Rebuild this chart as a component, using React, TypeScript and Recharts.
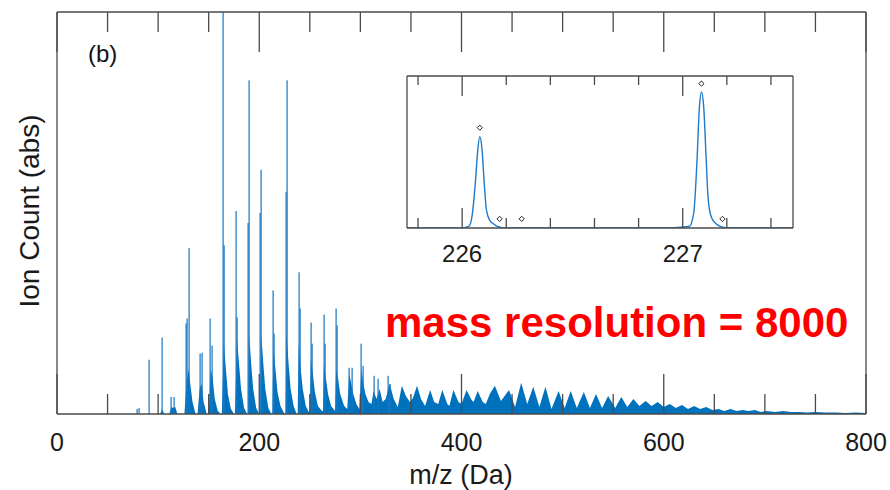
import { ComposedChart, Area, Bar, Line, Scatter, XAxis, YAxis } from 'recharts';

// main spectrum: dense cluster envelope (m/z, counts)
const envMz = [
  0, 84, 102, 104, 106, 111, 113, 115, 117, 119,
  126, 128, 130, 132, 134, 137, 139, 141, 143, 145, 148,
  150, 152, 154, 156, 159, 162, 163, 165, 167, 169, 172, 175,
  176, 178, 180, 182, 185, 188, 189, 190, 192, 194, 197, 200,
  201, 202, 204, 206, 209, 212, 213, 214, 216, 218, 221, 225,
  226, 227, 229, 231, 234, 237, 238, 239, 241, 243, 246, 249,
  250, 251, 253, 255, 258, 262, 263, 264, 266, 268, 271, 275,
  276, 278, 280, 284, 287, 289, 291, 293, 296, 299,
  301, 303, 305, 308, 311, 313, 316, 319, 322, 325, 329, 333, 337,
  341, 345, 349, 352, 356, 360, 364, 369, 373, 377, 381, 386, 388,
  392, 397, 400, 405, 410, 412, 416, 421, 424,
  428, 433, 439, 447, 453, 459, 465, 471, 477, 483, 489, 496, 502, 508, 514,
  521, 527, 533, 539, 545, 552, 558, 564, 570, 576, 582, 588, 594, 600,
  606, 612, 618, 624, 630, 636, 642, 648, 654, 660, 666, 672, 678, 684,
  690, 696, 702, 710, 718, 726, 734, 742, 750, 760, 770, 780, 790, 800,
];
const envCount = [
  0, 0, 0, 5, 0, 0, 7, 6, 7, 0,
  0, 30, 45, 28, 12, 0, 0, 25, 30, 12, 0,
  0, 45, 35, 15, 3, 0, 0, 70, 45, 20, 5, 0,
  0, 75, 50, 25, 6, 0, 0, 80, 50, 25, 6, 0,
  0, 80, 50, 25, 6, 0, 0, 65, 45, 22, 8, 0,
  0, 80, 50, 25, 8, 0, 0, 70, 45, 25, 8, 2,
  2, 55, 40, 22, 8, 3, 3, 50, 35, 20, 8, 3,
  45, 35, 20, 8, 5, 40, 30, 20, 10, 5,
  45, 30, 20, 12, 10, 23, 15, 25, 12, 15, 30, 15, 7,
  28, 18, 12, 16, 28, 15, 8, 24, 12, 10, 24, 10, 8,
  24, 12, 10, 24, 14, 12, 23, 12, 10,
  20, 28, 13, 24, 7, 31, 10, 27, 7, 27, 5, 23, 6, 23, 6,
  22, 6, 20, 6, 18, 6, 17, 7, 15, 8, 13, 8, 12, 7,
  10, 6, 9, 5, 8, 5, 7, 4, 5, 3, 5, 3, 4, 3,
  4, 2, 3, 2, 3, 2, 2, 1.5, 2, 1.5, 1.5, 1, 1.5, 1,
];

// main spectrum: isolated tall peaks
const spikeMz = [
  79, 81, 91, 104, 113, 116, 128, 129, 131, 141, 143, 151, 153,
  164, 165, 177, 178, 189, 190, 201, 202, 214, 215, 226, 227,
  239, 240, 251, 252, 264, 265, 276, 277, 289, 292, 301, 303,
  313, 317, 327, 329,
];
const spikeCount = [
  5, 6, 54, 76, 17, 17, 90, 95, 165, 60, 61, 95, 68,
  450, 168, 202, 96, 190, 332, 200, 243, 123, 80, 221, 332,
  141, 105, 91, 70, 99, 70, 105, 88, 46, 46, 70, 48,
  38, 35, 38, 30,
];

const mainTicks = [0, 50, 100, 150, 200, 250, 300, 350, 400, 450, 500, 550, 600, 650, 700, 750, 800];
const mainMajor = [0, 200, 400, 600, 800];

// inset: zoom on 226 / 227
const traceMz = [
  225.75, 226.0, 226.03, 226.045, 226.06, 226.07, 226.08, 226.09, 226.1, 226.11,
  226.125, 226.14, 226.16, 226.19, 226.3, 226.9, 227.03, 227.05, 227.065, 227.075,
  227.085, 227.095, 227.105, 227.115, 227.13, 227.15, 227.17, 227.2, 227.5,
];
const traceCount = [
  0, 0, 0.01, 0.08, 0.3, 0.5, 0.6, 0.52, 0.3, 0.12,
  0.05, 0.03, 0.01, 0, 0, 0, 0.01, 0.1, 0.45, 0.78,
  0.895, 0.8, 0.5, 0.2, 0.07, 0.03, 0.01, 0, 0,
];
const markerMz = [226.08, 226.17, 226.27, 227.085, 227.18];
const markerCount = [0.66, 0.06, 0.06, 0.95, 0.06];

const insetTicks = [225.8, 226, 226.2, 226.4, 226.6, 226.8, 227, 227.2, 227.4];
const insetMajor = [226, 227];

const FONT = '"Liberation Sans", Arial, Helvetica, sans-serif';
const AXIS = '#4a4a4a';
const BLUE = '#0072BD';

const spectrum = [
  ...envMz.map((mz, i) => ({ mz, env: envCount[i] })),
  ...spikeMz.map((mz, i) => ({ mz, spike: spikeCount[i] })),
].sort((a, b) => a.mz - b.mz);

const trace = traceMz.map((mz, i) => ({ mz, v: traceCount[i] }));
const markers = markerMz.map((mz, i) => ({ mz, v: markerCount[i] }));

function makeTick(side: 'top' | 'bottom', majors: number[], long: number, short: number, labelDy: number, fontSize: number) {
  return (props: any) => {
    const { x, y, payload } = props;
    const isMajor = majors.includes(payload.value);
    const len = isMajor ? long : short;
    const y2 = side === 'bottom' ? y - len : y + len;
    return (
      <g>
        <line x1={x} y1={y} x2={x} y2={y2} stroke={AXIS} strokeWidth={1.3} />
        {side === 'bottom' && isMajor && (
          <text x={x} y={y + labelDy} textAnchor="middle" fontSize={fontSize} fill="#1a1a1a" fontFamily={FONT}>
            {payload.value}
          </text>
        )}
      </g>
    );
  };
}

// thin spike: centred on its m/z and snapped to a pixel column
const SpikeShape = (props: any) => {
  const { x, y, width, height } = props;
  if (!height || height <= 0) return <g />;
  const cx = Math.round(x + width / 2);
  return <rect x={cx - 0.5} y={y} width={1.2} height={height} fill="#1677c4" />;
};

const Diamond = (props: any) => {
  const { cx, cy } = props;
  const r = 2.6;
  return (
    <path
      d={`M${cx},${cy - r}L${cx + r},${cy}L${cx},${cy + r}L${cx - r},${cy}Z`}
      fill="#fff"
      stroke="#222"
      strokeWidth={1}
    />
  );
};

const layer: any = { position: 'absolute', left: 0, top: 0 };

export default function App() {
  return (
    <div style={{ position: 'absolute', left: 0, top: 0, width: 890, height: 490, background: '#fff', fontFamily: FONT }}>
      {/* spectrum marks */}
      <div style={layer}>
        <ComposedChart width={890} height={490} data={spectrum} margin={{ top: 12, right: 24, bottom: 76, left: 57 }}>
          <XAxis xAxisId="main" dataKey="mz" type="number" domain={[0, 800]} allowDataOverflow hide />
          <YAxis yAxisId="main" type="number" domain={[0, 400]} allowDataOverflow hide />
          <Area
            xAxisId="main"
            yAxisId="main"
            dataKey="env"
            type="linear"
            connectNulls
            stroke="none"
            fill={BLUE}
            fillOpacity={1}
            isAnimationActive={false}
            dot={false}
            activeDot={false}
          />
          <Bar
            xAxisId="main"
            yAxisId="main"
            dataKey="spike"
            barSize={1}
            fill={BLUE}
            shape={SpikeShape}
            isAnimationActive={false}
          />
        </ComposedChart>
      </div>

      {/* box and ticks drawn over the spectrum */}
      <div style={layer}>
        <ComposedChart width={890} height={490} data={spectrum} margin={{ top: 11, right: 23, bottom: 75, left: 56 }}>
          <XAxis
            xAxisId="main"
            dataKey="mz"
            type="number"
            domain={[0, 800]}
            allowDataOverflow
            ticks={mainTicks}
            interval={0}
            height={1}
            tickSize={0}
            tickMargin={0}
            tickLine={false}
            axisLine={{ stroke: AXIS, strokeWidth: 1.3 }}
            tick={makeTick('bottom', mainMajor, 40, 20, 37, 25)}
          />
          <XAxis
            xAxisId="top"
            orientation="top"
            dataKey="mz"
            type="number"
            domain={[0, 800]}
            allowDataOverflow
            ticks={mainTicks}
            interval={0}
            height={1}
            tickSize={0}
            tickMargin={0}
            tickLine={false}
            axisLine={{ stroke: AXIS, strokeWidth: 1.3 }}
            tick={makeTick('top', mainMajor, 40, 20, 0, 25)}
          />
          <YAxis
            yAxisId="main"
            type="number"
            domain={[0, 400]}
            allowDataOverflow
            width={1}
            tick={false}
            tickLine={false}
            axisLine={{ stroke: AXIS, strokeWidth: 1.3 }}
          />
          <YAxis
            yAxisId="right"
            orientation="right"
            type="number"
            domain={[0, 400]}
            allowDataOverflow
            width={1}
            tick={false}
            tickLine={false}
            axisLine={{ stroke: AXIS, strokeWidth: 1.3 }}
          />
        </ComposedChart>
      </div>

      <div style={{ position: 'absolute', left: 380, top: 60, width: 440, height: 220 }}>
        <ComposedChart width={440} height={220} data={trace} margin={{ top: 15, right: 26, bottom: 51, left: 26 }}>
          <XAxis
            xAxisId="b"
            dataKey="mz"
            type="number"
            domain={[225.75, 227.5]}
            allowDataOverflow
            ticks={insetTicks}
            interval={0}
            height={1}
            tickSize={0}
            tickMargin={0}
            tickLine={false}
            axisLine={{ stroke: AXIS, strokeWidth: 1.3 }}
            tick={makeTick('bottom', insetMajor, 20, 10, 34, 24)}
          />
          <XAxis
            xAxisId="t"
            orientation="top"
            dataKey="mz"
            type="number"
            domain={[225.75, 227.5]}
            allowDataOverflow
            ticks={insetTicks}
            interval={0}
            height={1}
            tickSize={0}
            tickMargin={0}
            tickLine={false}
            axisLine={{ stroke: AXIS, strokeWidth: 1.3 }}
            tick={makeTick('top', insetMajor, 20, 9, 0, 24)}
          />
          <YAxis
            yAxisId="l"
            type="number"
            domain={[0, 1]}
            allowDataOverflow
            width={1}
            tick={false}
            tickLine={false}
            axisLine={{ stroke: AXIS, strokeWidth: 1.3 }}
          />
          <YAxis
            yAxisId="r"
            orientation="right"
            type="number"
            domain={[0, 1]}
            allowDataOverflow
            width={1}
            tick={false}
            tickLine={false}
            axisLine={{ stroke: AXIS, strokeWidth: 1.3 }}
          />
          <Line
            xAxisId="b"
            yAxisId="l"
            dataKey="v"
            type="monotone"
            stroke="#1f7bc8"
            strokeWidth={1.4}
            dot={false}
            activeDot={false}
            isAnimationActive={false}
          />
          <Scatter
            xAxisId="b"
            yAxisId="l"
            data={markers}
            dataKey="v"
            shape={Diamond}
            isAnimationActive={false}
          />
        </ComposedChart>
      </div>

      <svg width={890} height={490} style={{ position: 'absolute', left: 0, top: 0, pointerEvents: 'none' }}>
        <text x={88} y={62} fontSize={24} fill="#111" fontFamily={FONT}>(b)</text>
        <text
          x={0}
          y={0}
          transform="translate(39,211) rotate(-90)"
          textAnchor="middle"
          fontSize={28}
          fill="#1a1a1a"
          fontFamily={FONT}
        >
          Ion Count (abs)
        </text>
        <text x={461} y={484} textAnchor="middle" fontSize={27} fill="#1a1a1a" fontFamily={FONT}>m/z (Da)</text>
        <text x={385} y={337} fontSize={42} fontWeight="bold" fill="#ff0000" fontFamily={FONT}>
          mass resolution = 8000
        </text>
      </svg>
    </div>
  );
}
